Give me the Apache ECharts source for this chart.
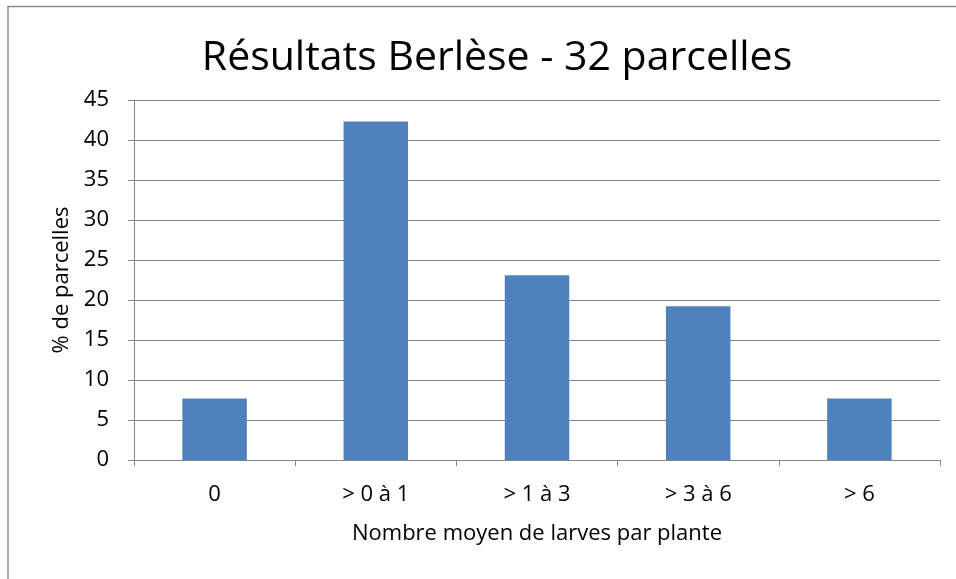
<!DOCTYPE html>
<html><head><meta charset="utf-8">
<script src="https://cdn.jsdelivr.net/npm/echarts@6/dist/echarts.min.js"></script>
<style>html,body{margin:0;padding:0;background:#fff}#c{width:956px;height:579px}</style>
</head><body><div id="c"></div>
<script>
const categories = ['0', '> 0 à 1', '> 1 à 3', '> 3 à 6', '> 6'];
const values = [7.69, 42.31, 23.08, 19.23, 7.69];
const yTicks = { min: 0, max: 45, interval: 5 };
const titleText = 'Résultats Berlèse - 32 parcelles';
const xName = 'Nombre moyen de larves par plante';
const yName = '% de parcelles';

const font = 'Open Sans';
const chart = echarts.init(document.getElementById('c'));
chart.setOption({
  animation: false,
  graphic: [{ type: 'rect', shape: { x: 8, y: 6.5, width: 960, height: 600 }, style: { fill: 'none', stroke: '#8c8c8c', lineWidth: 1.5 }, silent: true }],
  title: { text: titleText, left: 492, top: 33, textAlign: 'center',
    textStyle: { fontFamily: font, fontSize: 41, fontWeight: 'normal', color: '#000' } },
  grid: { left: 134, right: 16, top: 100, bottom: 119, containLabel: false },
  xAxis: {
    type: 'category', data: categories,
    name: xName, nameLocation: 'middle', nameGap: 63,
    nameTextStyle: { fontFamily: font, fontSize: 22, color: '#000' },
    axisLine: { lineStyle: { color: '#868686' } },
    axisTick: { show: true, length: 6, lineStyle: { color: '#868686' } },
    axisLabel: { fontFamily: font, fontSize: 22, color: '#000', margin: 24 },
    splitLine: { show: false }
  },
  yAxis: {
    type: 'value', min: yTicks.min, max: yTicks.max, interval: yTicks.interval,
    name: yName, nameLocation: 'middle', nameGap: 59, nameRotate: 90,
    nameTextStyle: { fontFamily: font, fontSize: 22, color: '#000' },
    axisLine: { show: true, lineStyle: { color: '#868686' } },
    axisTick: { show: true, length: 6, lineStyle: { color: '#868686' } },
    axisLabel: { fontFamily: font, fontSize: 22, color: '#000', margin: 25 },
    splitLine: { lineStyle: { color: '#868686' } }
  },
  series: [{ type: 'bar', data: values, barWidth: '40%', itemStyle: { color: '#4F81BD' } }]
});
</script></body></html>
